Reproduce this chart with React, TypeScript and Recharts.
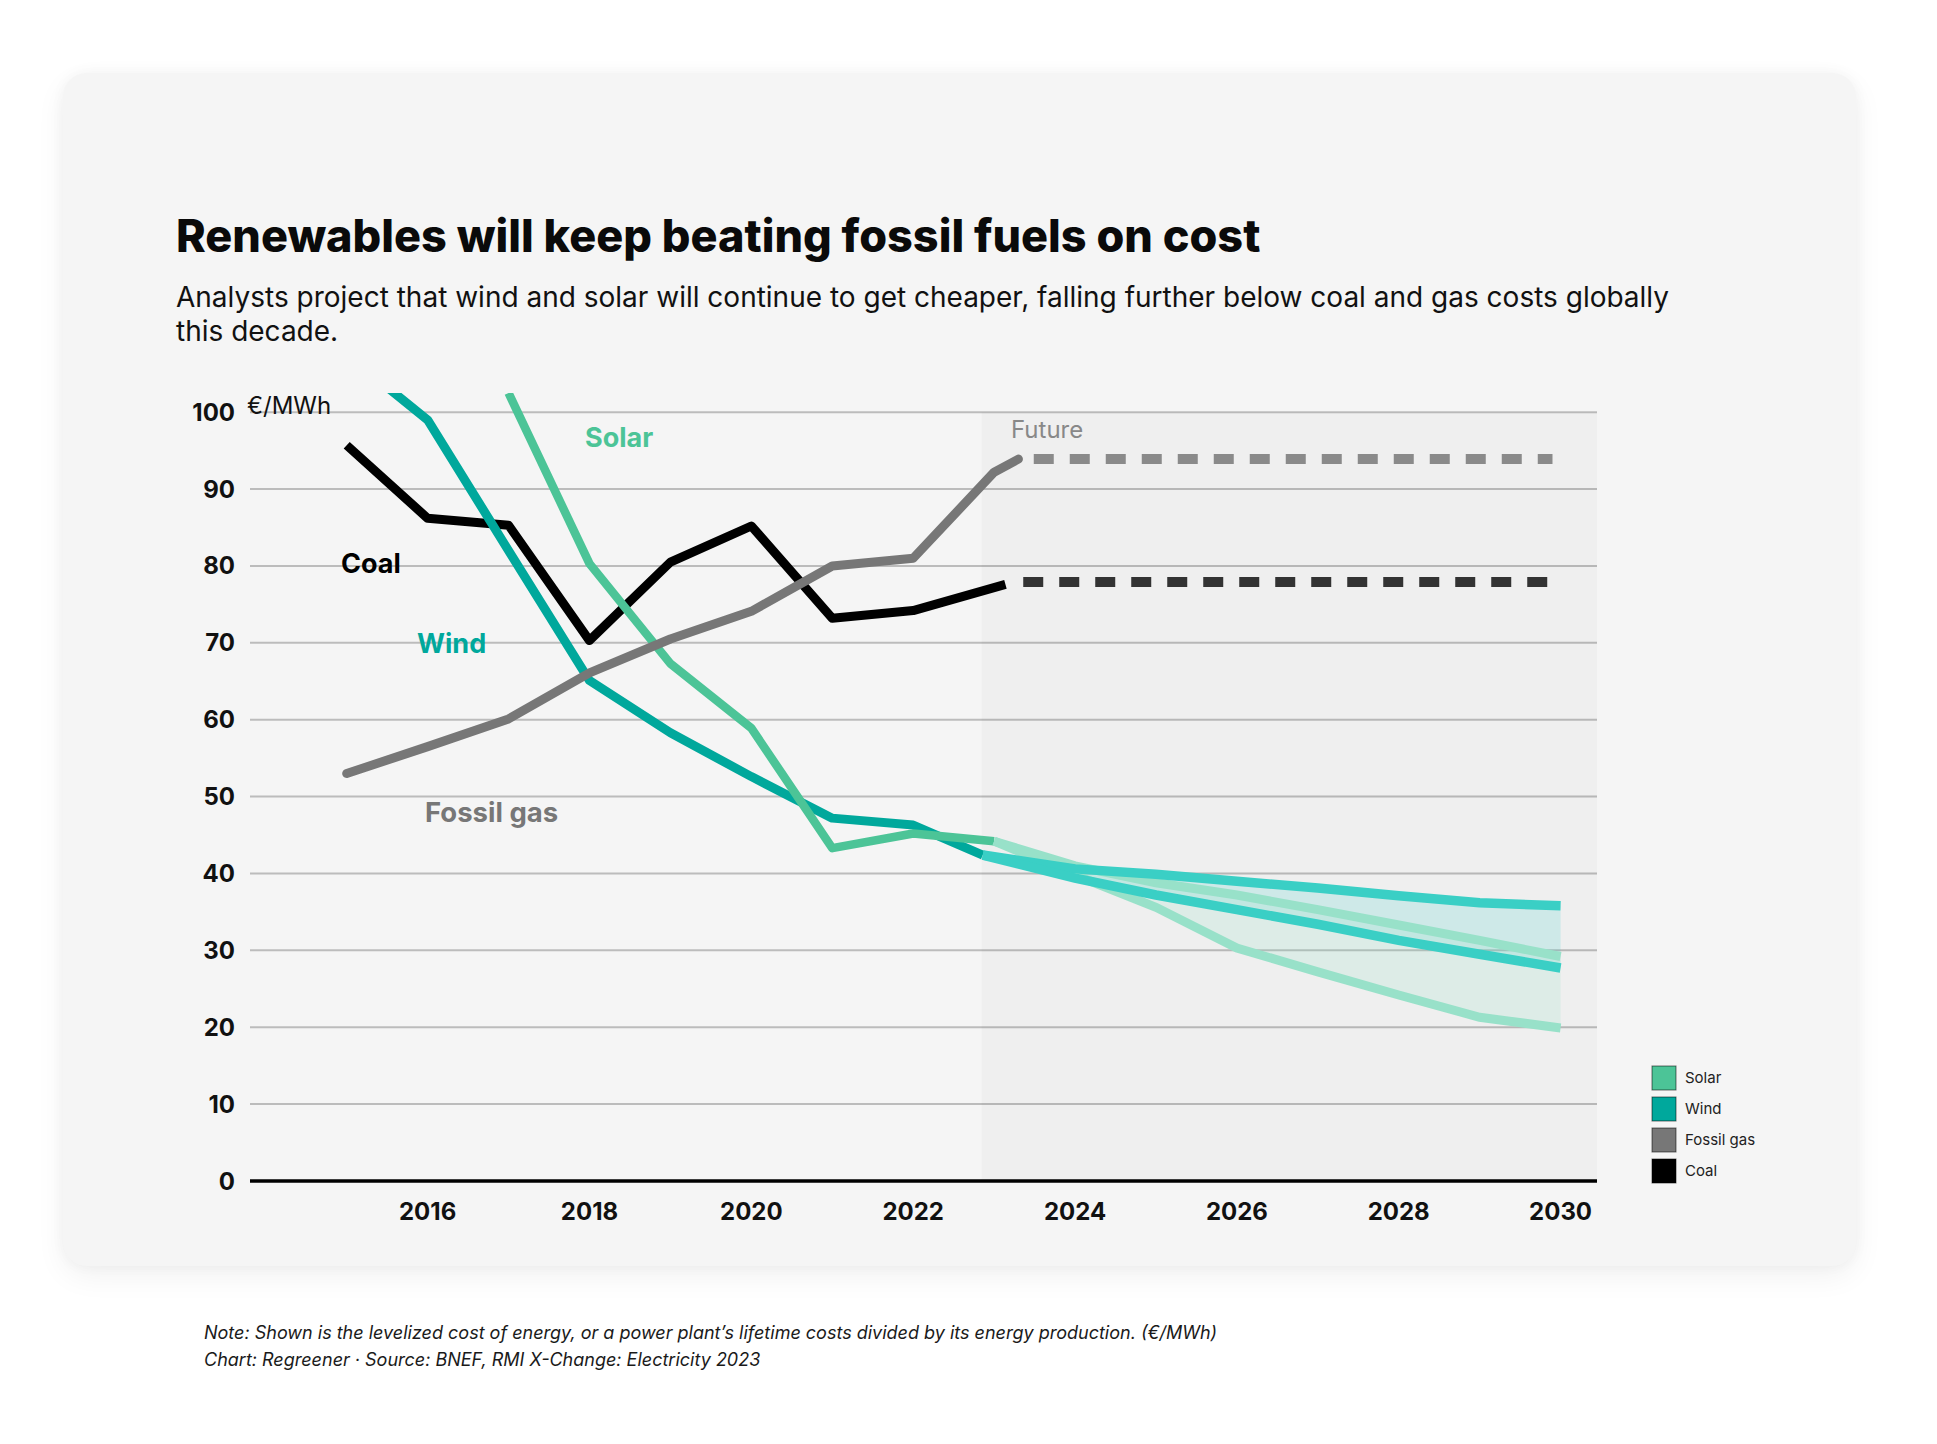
import React from 'react';
import {
  ComposedChart,
  Line,
  Area,
  XAxis,
  YAxis,
  CartesianGrid,
  ReferenceArea,
} from 'recharts';

// historic levelized cost (€/MWh)
const coalYears = [2015, 2016, 2017, 2018, 2019, 2020, 2021, 2022, 2023.14];
const coalCost = [95.7, 86.2, 85.3, 70.3, 80.5, 85.2, 73.2, 74.2, 77.6];

const gasYears = [2015, 2016, 2017, 2018, 2019, 2020, 2021, 2022, 2023, 2023.3];
const gasCost = [53.0, 56.5, 60.1, 66.1, 70.5, 74.1, 80.0, 81.0, 92.2, 93.9];

const windYears = [2015, 2016, 2017, 2018, 2019, 2020, 2021, 2022, 2022.86];
const windCost = [107.5, 99, 82, 65.1, 58.3, 52.6, 47.2, 46.3, 42.4];

const solarYears = [2017, 2018, 2019, 2020, 2021, 2022, 2023];
const solarCost = [102.5, 80.3, 67.3, 58.9, 43.3, 45.2, 44.2];

// projections
const windFutureYears = [2022.86, 2024, 2025, 2026, 2027, 2028, 2029, 2030];
const windHigh = [42.4, 40.6, 39.9, 39.0, 38.1, 37.1, 36.2, 35.8];
const windLow = [42.4, 39.4, 37.2, 35.3, 33.4, 31.3, 29.5, 27.7];

const solarFutureYears = [2023, 2024, 2025, 2026, 2027, 2028, 2029, 2030];
const solarHigh = [44.2, 41.0, 38.8, 37.2, 35.3, 33.3, 31.3, 29.2];
const solarLow = [44.2, 39.8, 35.6, 30.3, 27.2, 24.2, 21.3, 19.9];

const coalFlatYears = [2023.36, 2029.84];
const coalFlat = [77.9, 77.9];
const gasFlatYears = [2023.49, 2029.9];
const gasFlat = [93.9, 93.9];

const futureStart = 2022.845;
const xTicks = [2016, 2018, 2020, 2022, 2024, 2026, 2028, 2030];
const yTicks = [0, 10, 20, 30, 40, 50, 60, 70, 80, 90, 100];

const legendItems = ['Solar', 'Wind', 'Fossil gas', 'Coal'];
const legendColors = ['#4cc497', '#00a89c', '#777777', '#000000'];

const toRows = (xs: number[], ys: number[]) => xs.map((year, i) => ({ year, v: ys[i] }));
const toBand = (xs: number[], lo: number[], hi: number[]) =>
  xs.map((year, i) => ({ year, range: [lo[i], hi[i]] }));

const FONT = 'Inter, "Noto Sans", sans-serif';

export default function App() {
  const tickStyle = { fontSize: 24, fontWeight: 700, fill: '#111', fontFamily: FONT };

  return (
    <div
      style={{
        position: 'absolute',
        left: 0,
        top: 0,
        width: 1937,
        height: 1444,
        background: '#ffffff',
        overflow: 'hidden',
        fontFamily: FONT,
      }}
    >
      {/* card */}
      <div
        style={{
          position: 'absolute',
          left: 63,
          top: 73,
          width: 1793,
          height: 1193,
          background: '#f5f5f5',
          borderRadius: 24,
          boxShadow: '0 10px 30px rgba(0,0,0,0.06), 0 0 14px rgba(0,0,0,0.04)',
        }}
      />

      <div style={{ position: 'absolute', left: 0, top: 0 }}>
        <ComposedChart
          width={1937}
          height={1444}
          margin={{ top: 393, right: 340, bottom: 203, left: 190 }}
        >
          <CartesianGrid
            vertical={false}
            horizontalValues={yTicks}
            stroke="#bcbcbc"
            strokeWidth={2}
          />
          <ReferenceArea
            x1={futureStart}
            x2={2030.45}
            y1={0}
            y2={100}
            fill="#000"
            fillOpacity={0.025}
            stroke="none"
          />
          <XAxis
            type="number"
            dataKey="year"
            domain={[2013.805, 2030.45]}
            ticks={xTicks}
            allowDataOverflow
            height={60}
            tickLine={false}
            tickSize={0}
            tickMargin={22}
            axisLine={{ stroke: '#000', strokeWidth: 3.5 }}
            tick={tickStyle}
          />
          <YAxis
            type="number"
            domain={[0, 102.5]}
            ticks={yTicks}
            allowDataOverflow
            width={60}
            tickLine={false}
            tickSize={0}
            tickMargin={15}
            axisLine={false}
            tick={tickStyle}
          />

          <Area
            data={toBand(windFutureYears, windLow, windHigh)}
            dataKey="range"
            type="linear"
            stroke="none"
            fill="#3acfc5"
            fillOpacity={0.18}
            isAnimationActive={false}
          />
          <Area
            data={toBand(solarFutureYears, solarLow, solarHigh)}
            dataKey="range"
            type="linear"
            stroke="none"
            fill="#98e1c9"
            fillOpacity={0.2}
            isAnimationActive={false}
          />

          <Line
            data={toRows(coalYears, coalCost)}
            dataKey="v"
            type="linear"
            stroke="#000"
            strokeWidth={9}
            strokeLinejoin="round"
            dot={false}
            activeDot={false}
            isAnimationActive={false}
          />
          <Line
            data={toRows(windYears, windCost)}
            dataKey="v"
            type="linear"
            stroke="#00a89c"
            strokeWidth={9}
            strokeLinejoin="round"
            dot={false}
            activeDot={false}
            isAnimationActive={false}
          />
          <Line
            data={toRows(solarYears, solarCost)}
            dataKey="v"
            type="linear"
            stroke="#4cc497"
            strokeWidth={8.5}
            strokeLinejoin="round"
            dot={false}
            activeDot={false}
            isAnimationActive={false}
          />
          <Line
            data={toRows(gasYears, gasCost)}
            dataKey="v"
            type="linear"
            stroke="#777"
            strokeWidth={9}
            strokeLinejoin="round"
            strokeLinecap="round"
            dot={false}
            activeDot={false}
            isAnimationActive={false}
          />

          <Line
            data={toRows(solarFutureYears, solarHigh)}
            dataKey="v"
            type="linear"
            stroke="#98e1c9"
            strokeWidth={9}
            dot={false}
            activeDot={false}
            isAnimationActive={false}
          />
          <Line
            data={toRows(solarFutureYears, solarLow)}
            dataKey="v"
            type="linear"
            stroke="#98e1c9"
            strokeWidth={9}
            dot={false}
            activeDot={false}
            isAnimationActive={false}
          />
          <Line
            data={toRows(windFutureYears, windHigh)}
            dataKey="v"
            type="linear"
            stroke="#3acfc5"
            strokeWidth={9.5}
            dot={false}
            activeDot={false}
            isAnimationActive={false}
          />
          <Line
            data={toRows(windFutureYears, windLow)}
            dataKey="v"
            type="linear"
            stroke="#3acfc5"
            strokeWidth={9.5}
            dot={false}
            activeDot={false}
            isAnimationActive={false}
          />

          <Line
            data={toRows(coalFlatYears, coalFlat)}
            dataKey="v"
            type="linear"
            stroke="#333"
            strokeWidth={10}
            strokeDasharray="20 16"
            dot={false}
            activeDot={false}
            isAnimationActive={false}
          />
          <Line
            data={toRows(gasFlatYears, gasFlat)}
            dataKey="v"
            type="linear"
            stroke="#8a8a8a"
            strokeWidth={10}
            strokeDasharray="20 16"
            dot={false}
            activeDot={false}
            isAnimationActive={false}
          />
        </ComposedChart>
      </div>

      {/* text layer */}
      <svg
        width={1937}
        height={1444}
        style={{ position: 'absolute', left: 0, top: 0, pointerEvents: 'none' }}
        fontFamily={FONT}
      >
        <text x={176} y={252} fontSize={45} fontWeight={800} fill="#0a0a0a">
          Renewables will keep beating fossil fuels on cost
        </text>
        <text x={176} y={307} fontSize={28} fill="#111">
          Analysts project that wind and solar will continue to get cheaper, falling further below coal and gas costs globally
        </text>
        <text x={176} y={341} fontSize={28} fill="#111">
          this decade.
        </text>

        <text x={247} y={414} fontSize={24} fill="#111">€/MWh</text>
        <text x={585} y={447} fontSize={27} fontWeight={700} fill="#4cc497">Solar</text>
        <text x={341} y={573} fontSize={27} fontWeight={700} fill="#000">Coal</text>
        <text x={417} y={653} fontSize={27} fontWeight={700} fill="#00a89c">Wind</text>
        <text x={425} y={822} fontSize={27.5} fontWeight={700} fill="#777">Fossil gas</text>
        <text x={1011} y={438} fontSize={24} fill="#888">Future</text>

        {legendItems.map((name, i) => (
          <g key={name}>
            <rect
              x={1652}
              y={1066 + i * 31}
              width={24}
              height={24}
              fill={legendColors[i]}
              stroke="rgba(0,0,0,0.55)"
              strokeWidth={1}
            />
            <text x={1685} y={1066 + i * 31 + 17} fontSize={15} fill="#222">
              {name}
            </text>
          </g>
        ))}

        <text x={204} y={1339} fontSize={18} fontStyle="italic" fill="#1a1a1a">
          Note: Shown is the levelized cost of energy, or a power plant’s lifetime costs divided by its energy production. (€/MWh)
        </text>
        <text x={204} y={1366} fontSize={18} fontStyle="italic" fill="#1a1a1a">
          Chart: Regreener · Source: BNEF, RMI X-Change: Electricity 2023
        </text>
      </svg>
    </div>
  );
}
